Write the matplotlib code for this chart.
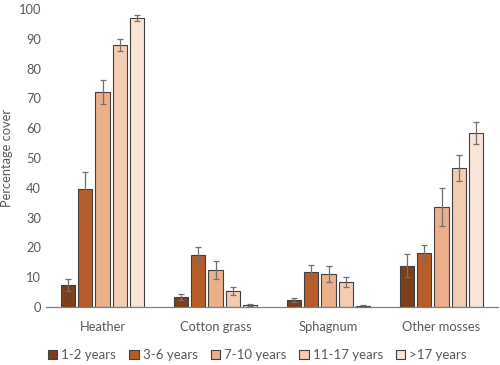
import matplotlib
matplotlib.use("Agg")
import matplotlib.pyplot as plt
import numpy as np

plt.rcParams['font.family'] = ['Lato', 'DejaVu Sans']

categories = ["Heather", "Cotton grass", "Sphagnum", "Other mosses"]
series = ["1-2 years", "3-6 years", "7-10 years", "11-17 years", ">17 years"]
values = {
    "1-2 years":   [7.4, 3.4, 2.3, 13.9],
    "3-6 years":   [39.5, 17.4, 11.7, 18.1],
    "7-10 years":  [72.1, 12.4, 11.0, 33.5],
    "11-17 years": [87.9, 5.4, 8.3, 46.6],
    ">17 years":   [97.0, 0.7, 0.3, 58.4],
}
errors = {
    "1-2 years":   [2.0, 1.0, 0.8, 4.0],
    "3-6 years":   [5.8, 2.7, 2.3, 2.7],
    "7-10 years":  [4.0, 3.0, 2.7, 6.3],
    "11-17 years": [2.0, 1.3, 1.7, 4.3],
    ">17 years":   [1.0, 0.3, 0.2, 3.7],
}
colors = ["#7B3F1C", "#B85D29", "#EBB08A", "#F3CCB1", "#F8E5D8"]

fig = plt.figure(figsize=(5, 3.65), dpi=100)
ax = fig.add_axes([0.092, 0.159, 0.904, 0.816])

x = np.arange(len(categories))
step = 0.153
width = 0.124
for i, s in enumerate(series):
    pos = x + (i - 2) * step
    ax.bar(pos, values[s], width=width, color=colors[i], edgecolor="#404040",
           linewidth=0.8, label=s, zorder=2)
    ax.errorbar(pos, values[s], yerr=errors[s], fmt="none", ecolor="#707070",
                elinewidth=0.9, capsize=2.5, capthick=0.9, zorder=3)

ax.set_xlim(-0.5, 3.5)
ax.set_ylim(0, 100)
ax.set_yticks(np.arange(0, 101, 10))
ax.set_xticks(x)
ax.set_xticklabels(categories)
ax.tick_params(axis="both", length=0, colors="#595959", labelsize=9.3)
ax.tick_params(axis="x", pad=10)
for sp in ["top", "right", "left"]:
    ax.spines[sp].set_visible(False)
ax.spines["bottom"].set_color("#808080")
ax.spines["bottom"].set_linewidth(0.9)
ax.set_ylabel("Percentage cover", color="#595959", fontsize=9.3, labelpad=4)

leg = fig.legend(loc="lower center", ncol=5, frameon=False, fontsize=9.5,
                 bbox_to_anchor=(0.515, -0.022), handlelength=0.7, handleheight=0.7,
                 handletextpad=0.3, columnspacing=1.0)
for t in leg.get_texts():
    t.set_color("#595959")

fig.savefig("out.png", dpi=100)
